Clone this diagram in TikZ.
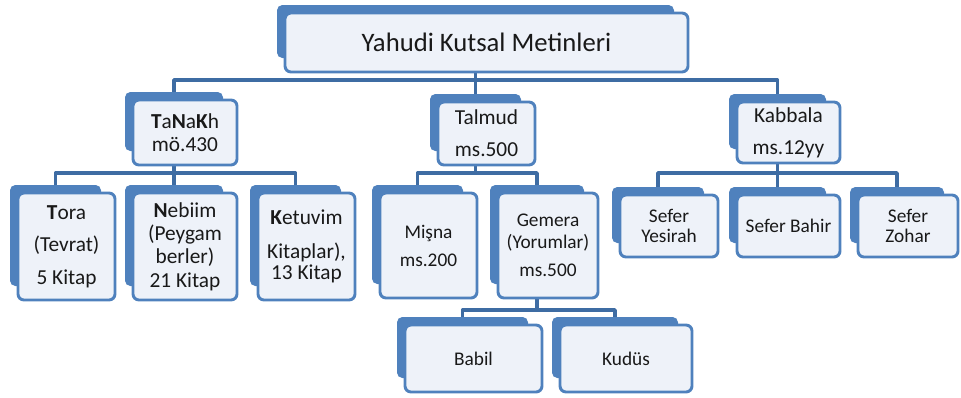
\documentclass[tikz,border=0pt]{standalone}
\usepackage{fontspec}
\setmainfont{Carlito}
\usepackage{xcolor}
\usetikzlibrary{backgrounds}
\definecolor{mavi}{HTML}{4F81BD}
\definecolor{acik}{HTML}{EEF2F9}
\definecolor{koyu}{HTML}{3E6CA3}
\tikzset{
  arka/.style={fill=mavi, rounded corners=4pt, inner sep=0pt},
  on/.style={draw=mavi, fill=acik, line width=2.2pt, rounded corners=4.5pt, inner sep=0pt, align=center, text=black!90},
  bag/.style={draw=koyu, line width=2.6pt, line join=round},
  kucuk/.style={font=\fontsize{14.5}{15}\selectfont},
}
% \kutu[options]{name}{x1}{y1}{x2}{y2}{text}, front box corners in px
\newcommand\kutu[7][]{%
  \node[arka, minimum width={(#5-#3-6)*0.75pt}, minimum height={(#6-#4-6)*0.75pt}]
    (#2-b) at ({(#3+#5)/2-11},{(#4+#6)/2-11}) {};
  \node[on, minimum width={(#5-#3)*0.75pt}, minimum height={(#6-#4)*0.75pt}, #1]
    (#2) at ({(#3+#5)/2},{(#4+#6)/2}) {#7};
}
\begin{document}
\begin{tikzpicture}[x=0.75pt, y=-0.75pt]
\useasboundingbox (0,0) rectangle (961,397);
\coordinate (bus0) at (0,80);
\coordinate (bus1) at (0,173);
\coordinate (bus2) at (0,310);
% top
\kutu[font=\fontsize{20}{24}\selectfont]{kok}{285}{13}{688}{72}{Yahudi Kutsal Metinleri}
% level 1
\kutu[font=\fontsize{16}{17.5}\selectfont]{tanakh}{133}{100}{237}{165}{\textbf{T}a\textbf{N}a\textbf{K}h\\mö.430}
\kutu[font=\fontsize{16}{24}\selectfont]{talmud}{438}{102}{535}{165}{Talmud\\ms.500}
\kutu[font=\fontsize{16}{24}\selectfont]{kabbala}{737}{102}{840}{163}{Kabbala\\ms.12yy}
% level 2
\kutu[font=\fontsize{16}{24.5}\selectfont]{tora}{18}{193}{115}{300}{\textbf{T}ora\\(Tevrat)\\5 Kitap}
\kutu[font=\fontsize{16}{17.5}\selectfont]{nebiim}{133}{193}{237}{300}{\textbf{N}ebiim\\(Peygam\\berler)\\21 Kitap}
\kutu[font=\fontsize{16}{16}\selectfont]{ketuvim}{258}{193}{355}{300}{\textbf{K}etuvim\\[9.5pt]Kitaplar),\\13 Kitap}
\kutu[font=\fontsize{14.5}{21}\selectfont]{misna}{380}{193}{477}{298}{Mişna\\ms.200}
\kutu[font=\fontsize{14.5}{16.5}\selectfont]{gemera}{498}{193}{598}{298}{Gemera\\(Yorumlar)\\[4.5pt]ms.500}
\kutu[kucuk]{yesirah}{620}{195}{718}{257}{Sefer\\Yesirah}
\kutu[kucuk]{bahir}{737}{195}{840}{257}{Sefer Bahir}
\kutu[kucuk]{zohar}{858}{195}{958}{257}{Sefer\\Zohar}
% level 3
\kutu[kucuk]{babil}{405}{325}{542}{392}{Babil}
\kutu[kucuk]{kudus}{560}{325}{692}{392}{Kudüs}
% connectors
\begin{pgfonlayer}{background}
\draw[bag] (kok-b.south) -- (kok-b.south |- bus0);
\foreach \c in {tanakh,talmud,kabbala}
  \draw[bag] (kok-b.south |- bus0) -| (\c-b.north);
\draw[bag] (tanakh-b.south) -- (tanakh-b.south |- bus1);
\foreach \c in {tora,nebiim,ketuvim}
  \draw[bag] (tanakh-b.south |- bus1) -| (\c-b.north);
\draw[bag] (talmud-b.south) -- (talmud-b.south |- bus1);
\foreach \c in {misna,gemera}
  \draw[bag] (talmud-b.south |- bus1) -| (\c-b.north);
\draw[bag] (kabbala-b.south) -- (kabbala-b.south |- bus1);
\foreach \c in {yesirah,bahir,zohar}
  \draw[bag] (kabbala-b.south |- bus1) -| (\c-b.north);
\draw[bag] (gemera-b.south) -- (gemera-b.south |- bus2);
\foreach \c in {babil,kudus}
  \draw[bag] (gemera-b.south |- bus2) -| (\c-b.north);
\end{pgfonlayer}
\end{tikzpicture}
\end{document}
